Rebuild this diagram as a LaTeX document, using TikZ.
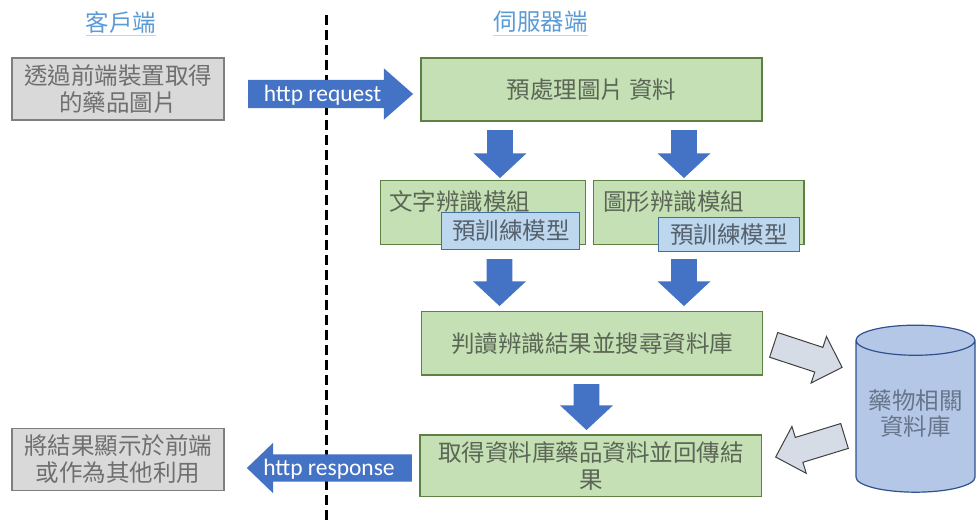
\documentclass[tikz,border=0pt]{standalone}
\usepackage{fontspec}
\setmainfont{Carlito}
\newfontfamily\cjk{Noto Sans CJK TC}
\usetikzlibrary{shapes.arrows,shapes.geometric}
\definecolor{arrowblue}{HTML}{4472C4}
\definecolor{greenfill}{HTML}{C5E0B4}
\definecolor{greenline}{HTML}{5E8040}
\definecolor{grayfill}{HTML}{D9D9D9}
\definecolor{grayline}{HTML}{7F7F7F}
\definecolor{graytext}{HTML}{6F6F6F}
\definecolor{boxtext}{HTML}{5B6656}
\definecolor{ltbluefill}{HTML}{BDD7EE}
\definecolor{ltblueline}{HTML}{41719C}
\definecolor{ltbluetext}{HTML}{55606B}
\definecolor{dbfill}{HTML}{B4C7E7}
\definecolor{dbline}{HTML}{2F528F}
\definecolor{dbtext}{HTML}{66758A}
\definecolor{titleblue}{HTML}{5B9BD5}
\definecolor{ulinecol}{HTML}{BDD7EE}
\definecolor{garrowfill}{HTML}{D6DCE5}
\definecolor{garrowline}{HTML}{404040}
\tikzset{
  cjkfont/.style={font=\cjk\fontsize{23.5}{26.5}\selectfont},
  graybox/.style={cjkfont, draw=grayline, line width=1.2pt, fill=grayfill, text=graytext, inner sep=0pt, align=center},
  greenbox/.style={cjkfont, draw=greenline, line width=1.2pt, fill=greenfill, text=boxtext, inner sep=0pt, align=center},
  bluebox/.style={cjkfont, draw=ltblueline, line width=1.2pt, fill=ltbluefill, text=ltbluetext, inner sep=0pt, align=center},
  plaintext/.style={cjkfont, text=boxtext, inner sep=0pt},
  titletext/.style={cjkfont, text=titleblue, inner sep=0pt},
  uline/.style={draw=ulinecol, line width=0.8pt},
  divider/.style={draw=black, line width=3.2pt, dash pattern=on 10pt off 5pt},
  bluedown/.style={single arrow, shape border rotate=270, fill=arrowblue, draw=none,
    text height=0pt, text depth=0pt, text width=0pt, inner xsep=12.75pt, inner ysep=0pt, outer sep=0pt,
    single arrow head extend=13.5pt, single arrow tip angle=94, minimum height=48pt, minimum width=0pt},
  grayarrow/.style={single arrow, fill=garrowfill, draw=garrowline, line width=1pt,
    text height=0pt, text depth=0pt, inner xsep=0pt, inner ysep=12.5pt, outer sep=0pt,
    single arrow head extend=11.5pt, single arrow tip angle=90, minimum height=72pt, minimum width=0pt},
  httparrow/.style={single arrow, fill=arrowblue, draw=none, text=white,
    font=\fontsize{23.5}{26.5}\selectfont, text height=17pt, text depth=2pt,
    inner xsep=0pt, inner ysep=4.5pt, outer sep=0pt, single arrow head extend=11.5pt,
    minimum height=165pt, minimum width=0pt},
}
\begin{document}
\begin{tikzpicture}[x=1pt,y=-1pt]
\useasboundingbox (0,0) rectangle (976,522);
% titles
\node[titletext] (tc) at (121,22) {客戶端};
\draw[uline] ([yshift=-2pt]tc.south west) -- ([yshift=-2pt]tc.south east);
\node[titletext] (ts) at (540.5,22) {伺服器端};
\draw[uline] ([yshift=-2pt]ts.south west) -- ([yshift=-2pt]ts.south east);
% divider
\coordinate (dtop) at (326.5,15);
\coordinate (dbot) at (326.5,522);
\draw[divider] (dtop) -- (dbot);
% client boxes
\node[graybox, minimum width=212pt, minimum height=62pt] (c1) at (118,89) {透過前端裝置取得\\的藥品圖片};
\node[graybox, minimum width=212pt, minimum height=62pt] (c2) at (118,459.2) {將結果顯示於前端\\或作為其他利用};
% server boxes
\node[greenbox, minimum width=341pt, minimum height=63pt] (pre) at (591.5,89.5) {預處理圖片 資料};
\node[greenbox, minimum width=205pt, minimum height=64pt] (m1) at (483.3,212.8) {};
\node[plaintext, anchor=west] (m1t) at (389,201.7) {文字辨識模組};
\node[bluebox, minimum width=138pt, minimum height=36.5pt] (p1) at (510.8,231) {預訓練模型};
\node[greenbox, minimum width=210.7pt, minimum height=64pt] (m2) at (698.7,212.8) {};
\node[plaintext, anchor=west] (m2t) at (603,201.7) {圖形辨識模組};
\node[bluebox, minimum width=141pt, minimum height=34pt] (p2) at (728.8,234.2) {預訓練模型};
\node[greenbox, minimum width=340.6pt, minimum height=63.3pt] (judge) at (592,343.3) {判讀辨識結果並搜尋資料庫};
\node[greenbox, minimum width=341.7pt, minimum height=61.7pt] (res) at (590.8,465.8) {取得資料庫藥品資料並回傳結\\果};
% database
\node[cylinder, shape border rotate=90, aspect=0.32, draw=dbline, fill=dbfill, line width=1.2pt,
  minimum width=119pt, minimum height=167pt, cjkfont, text=dbtext, align=center, inner sep=0pt,
  text depth=8pt] (db) at (915.5,416.5) {藥物相關\\資料庫};
% block arrows
\node[bluedown] (a1) at (500,148) {};
\node[bluedown] (a2) at (684,148) {};
\node[bluedown, minimum height=47pt] (a3) at (499.5,276.5) {};
\node[bluedown, minimum height=47pt] (a4) at (684,276.5) {};
\node[bluedown, minimum height=46pt] (a5) at (586.5,401) {};
\node[grayarrow, rotate=-18.2] (g1) at (801.7,354.1) {};
\node[grayarrow, rotate=197] (g2) at (816.3,444.6) {};
\node[httparrow, single arrow tip angle=82.6] (req) at (322.5,94) {http request};
\node[httparrow, shape border rotate=180, single arrow tip angle=87.7, inner ysep=4pt] (resp) at (336.5,468) {\hspace*{-15pt}http response};
\end{tikzpicture}
\end{document}
